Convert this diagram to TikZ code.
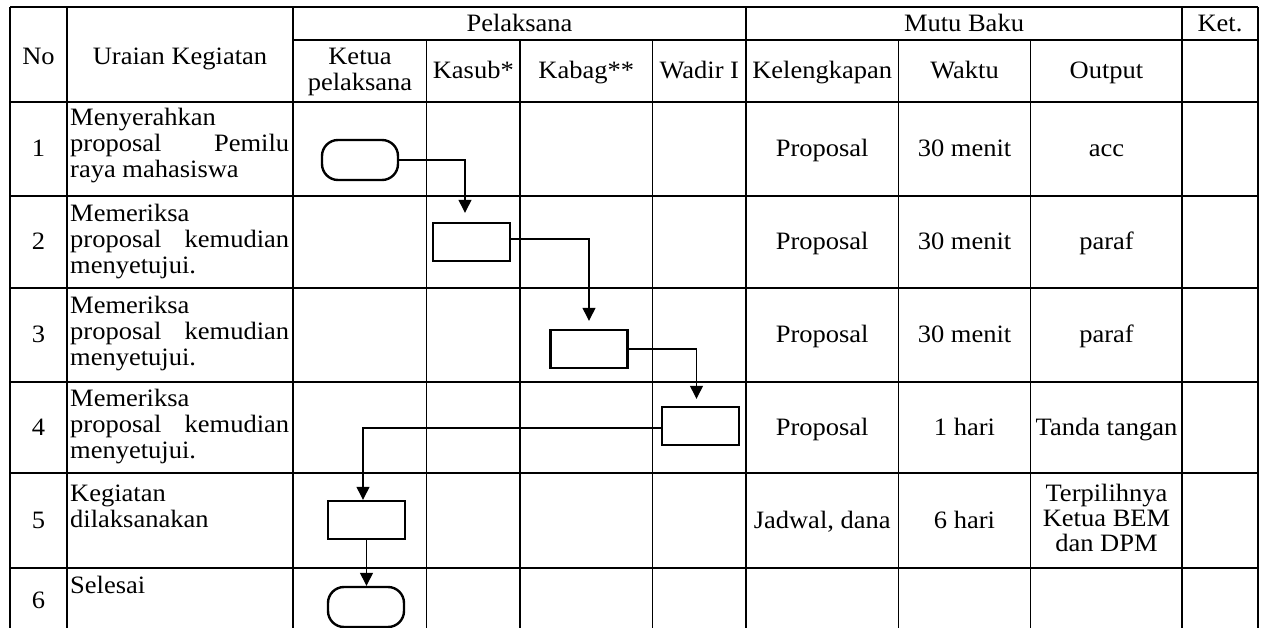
\documentclass[tikz,border=0pt]{standalone}
\usepackage{fontspec}
\setmainfont[FakeStretch=1.06]{Liberation Serif}
\usetikzlibrary{arrows.meta,calc}
\newcommand\tabfont{\fontsize{25}{26}\selectfont}
\begin{document}
\begin{tikzpicture}[x=1pt,y=-1pt,
  every node/.style={font=\tabfont},
  grid/.style={line width=1.2pt},
  term/.style={draw,line width=2.4pt,rounded corners=16pt,minimum width=76pt,minimum height=40pt,inner sep=0pt},
  proc/.style={draw,line width=2.4pt,minimum width=77pt,minimum height=38pt,inner sep=0pt},
  flow/.style={line width=1.3pt,-{Triangle[width=13pt,length=13pt]}},
  cell/.style={inner sep=0pt,anchor=base},
  desc/.style={inner sep=0pt,anchor=base west}]
\useasboundingbox (0,0) rectangle (1264,628);

% grid
\draw[grid] (10,7) -- (1258,7);
\draw[grid] (293,40) -- (1258,40);
\foreach \yy in {102,196,288,382,473,568}
  \draw[grid] (10,\yy) -- (1258,\yy);
\foreach \xx in {10,67,293,746,1182,1258}
  \draw[grid] (\xx,7) -- (\xx,628);
\foreach \xx in {426.7,520,652.7,898.3,1030.7}
  \draw[grid] (\xx,40) -- (\xx,628);

% header
\node[cell] (hpel) at (519.5,32) {Pelaksana};
\node[cell] (hmutu) at (964,32) {Mutu Baku};
\node[cell] (hket) at (1220,32) {Ket.};
\node[cell] (hno) at (38.5,65) {No};
\node[cell] (hur) at (180,65) {Uraian Kegiatan};
\node[cell] (hketua) at (360,65) {\parbox[t]{130pt}{\centering Ketua\\pelaksana}};
\node[cell] (hkasub) at (473.3,78.3) {Kasub*};
\node[cell] (hkabag) at (586.3,78.3) {Kabag**};
\node[cell] (hwadir) at (699.3,78.3) {Wadir I};
\node[cell] (hkel) at (822.2,78.3) {Kelengkapan};
\node[cell] (hwak) at (964.5,78.3) {Waktu};
\node[cell] (hout) at (1106.5,78.3) {Output};

% numbers
\node[cell] (n1) at (38.5,157) {1};
\node[cell] (n2) at (38.5,250) {2};
\node[cell] (n3) at (38.5,343) {3};
\node[cell] (n4) at (38.5,435) {4};
\node[cell] (n5) at (38.5,528) {5};
\node[cell] (n6) at (38.5,608) {6};

% descriptions
\node[desc] (d1) at (70,126) {\parbox[t]{219pt}{Menyerahkan\\proposal\hfill Pemilu\\raya mahasiswa}};
\node[desc] (d2) at (70,222) {\parbox[t]{219pt}{Memeriksa\\proposal\hfill kemudian\\menyetujui.}};
\node[desc] (d3) at (70,314) {\parbox[t]{219pt}{Memeriksa\\proposal\hfill kemudian\\menyetujui.}};
\node[desc] (d4) at (70,406) {\parbox[t]{219pt}{Memeriksa\\proposal\hfill kemudian\\menyetujui.}};
\node[desc] (d5) at (70,501) {\parbox[t]{219pt}{Kegiatan\\dilaksanakan}};
\node[desc] (d6) at (70,593) {Selesai};

% mutu baku
\node[cell] (k1) at (822.2,156.5) {Proposal};
\node[cell] (w1) at (964.5,156.5) {30 menit};
\node[cell] (o1) at (1106.5,156.5) {acc};
\node[cell] (k2) at (822.2,249.5) {Proposal};
\node[cell] (w2) at (964.5,249.5) {30 menit};
\node[cell] (o2) at (1106.5,249.5) {paraf};
\node[cell] (k3) at (822.2,342.5) {Proposal};
\node[cell] (w3) at (964.5,342.5) {30 menit};
\node[cell] (o3) at (1106.5,342.5) {paraf};
\node[cell] (k4) at (822.2,435) {Proposal};
\node[cell] (w4) at (964.5,435) {1 hari};
\node[cell] (o4) at (1106.5,435) {Tanda tangan};
\node[cell] (k5) at (822.2,528) {Jadwal, dana};
\node[cell] (w5) at (964.5,528) {6 hari};
\node[cell] (o5) at (1106.5,501.5) {\parbox[t]{148pt}{\centering\fontsize{25}{25}\selectfont Terpilihnya\\Ketua BEM\\dan DPM}};

% flow shapes
\node[term] (t1) at (360,160) {};
\node[proc] (b2) at (471.5,242) {};
\node[proc] (b3) at (589,349) {};
\node[proc] (b4) at (700.5,426) {};
\node[proc] (b5) at (366.5,520) {};
\node[term] (t6) at (366,607) {};

% connectors
\draw[flow] (t1.east) -| ($(b2.north)+(-6.5,-9)$);
\draw[flow] ([yshift=3pt]b2.east) -| ($(b3.north)+(0,-8)$);
\draw[flow] (b3.east) -| ($(b4.north)+(-4,-7)$);
\draw[flow] ([yshift=-2pt]b4.west) -| ($(b5.north)+(-3.5,0)$);
\draw[flow] (b5.south) -- (b5.south |- t6.north);
\end{tikzpicture}
\end{document}
